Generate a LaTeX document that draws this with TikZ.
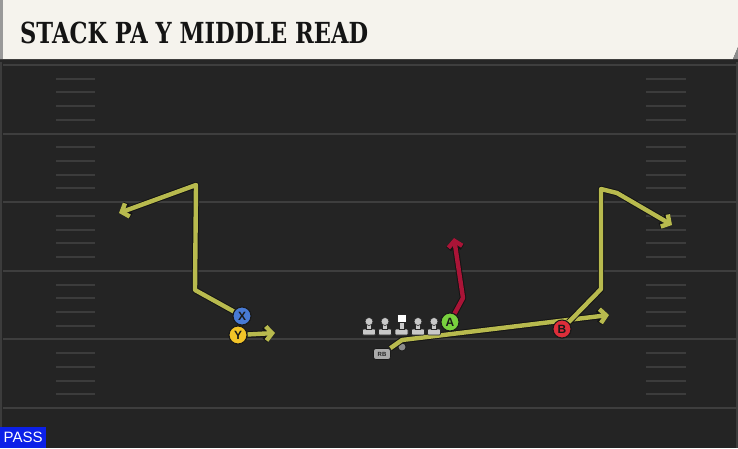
\documentclass[tikz,border=0pt]{standalone}
\usepackage{fontspec}
\setmainfont{Liberation Sans}
\newfontfamily\titlefont{DejaVu Serif}
\usetikzlibrary{arrows.meta}
\definecolor{fieldbg}{RGB}{36,36,36}
\definecolor{yardln}{RGB}{62,62,62}
\definecolor{hashln}{RGB}{60,60,60}
\definecolor{headerbg}{RGB}{245,243,237}
\definecolor{routeol}{RGB}{184,186,78}
\definecolor{routered}{RGB}{170,20,55}
\definecolor{pgreen}{RGB}{120,208,62}
\definecolor{pblue}{RGB}{72,122,212}
\definecolor{pyellow}{RGB}{242,196,40}
\definecolor{pred}{RGB}{222,46,58}
\definecolor{passblue}{RGB}{12,32,232}
\definecolor{linegray}{RGB}{200,200,200}
\tikzset{
  tipbarb/.style={-{Straight Barb[length=6pt,width=14pt]}},
  routeY/.style={draw=routeol, line width=4.4pt, line join=round, tipbarb,
    preaction={draw=black!92, line width=6.4pt, line join=round, tipbarb}},
  routeR/.style={draw=routered, line width=4.4pt, line join=round, tipbarb,
    preaction={draw=black!92, line width=6.4pt, line join=round, tipbarb}},
  player/.style={circle, draw=black!90, line width=1pt, minimum size=18pt, inner sep=0pt,
    font=\bfseries\fontsize{12}{12}\selectfont, text=black!90},
  rbbox/.style={rectangle, rounded corners=2.5pt, fill=linegray!85!black, draw=black!90, line width=0.7pt,
    minimum width=17pt, minimum height=11pt, inner sep=0pt, font=\bfseries\fontsize{6}{6}\selectfont, text=black!85},
  lineman/.pic={
    \fill[linegray, draw=black!85, line width=0.6pt, rounded corners=1pt] (-6.5,7.5) rectangle (6.5,13.5);
    \fill[linegray, draw=black!85, line width=0.6pt] (-2.5,1) rectangle (2.5,8);
    \fill[linegray, draw=black!85, line width=0.6pt] (0,0) circle (4pt);
  },
  centerman/.pic={
    \fill[linegray, draw=black!85, line width=0.6pt, rounded corners=1pt] (-6.5,7.5) rectangle (6.5,13.5);
    \fill[linegray, draw=black!85, line width=0.6pt] (-2.5,1) rectangle (2.5,8);
    \fill[white, draw=black!85, line width=0.6pt] (-4.5,-7.5) rectangle (4.5,1);
  }
}
\begin{document}
\begin{tikzpicture}[x=1pt,y=-1pt]
\useasboundingbox (0,0) rectangle (738,448);
% field
\fill[fieldbg] (0,0) rectangle (738,448);
\fill[black!85] (0,58) rectangle (738,64);
% side lines
\draw[hashln, line width=2pt] (1,62) -- (1,448);
\draw[hashln, line width=1.5pt] (737,62) -- (737,448);
% yard lines
\foreach \k in {0,...,5} {
  \draw[yardln, line width=2pt] (3,65+68.6*\k) -- (738,65+68.6*\k);
}
% hash marks
\foreach \j in {1,2,3,4,6,7,8,9,11,12,13,14,16,17,18,19,21,22,23,24} {
  \draw[hashln, line width=2pt] (56,65+13.72*\j) -- (95,65+13.72*\j);
  \draw[hashln, line width=2pt] (646,65+13.72*\j) -- (686,65+13.72*\j);
}
% header
\fill[headerbg] (0,0) -- (738,0) -- (738,47) -- (733,59) -- (0,59) -- cycle;
\fill[black!40] (0,0) rectangle (3,59);
\fill[black!45] (738,47) -- (733,59) -- (738,59) -- cycle;
\node[anchor=base west, inner sep=0pt, text=black!92] (title) at (20,43.3)
  {\resizebox{348pt}{21.5pt}{\titlefont\bfseries STACK PA Y MIDDLE READ}};
% PASS label
\node[fill=passblue, text=white, anchor=south west, minimum width=46pt, minimum height=21pt,
  inner sep=0pt, font=\fontsize{15}{15}\selectfont] (pass) at (0,448) {PASS};
% way points
\coordinate (x1) at (195,290);
\coordinate (x2) at (196,185);
\coordinate (x3) at (119,213);
\coordinate (y1) at (275,333);
\coordinate (r1) at (402,340);
\coordinate (r2) at (609,315);
\coordinate (b1) at (601,289);
\coordinate (b2) at (601,189);
\coordinate (b3) at (617,193);
\coordinate (b4) at (672,225);
\coordinate (a1) at (463,298);
\coordinate (a2) at (454,238);
% players (placed first for routes to refer to)
\node[player, fill=pblue] (X) at (242,316) {X};
\node[player, fill=pyellow] (Y) at (238,335) {Y};
\node[player, fill=pgreen] (A) at (450,322) {A};
\node[player, fill=pred] (B) at (562,329) {B};
\node[rbbox] (RB) at (382,354) {RB};
\node[circle, fill=black!45, draw=black!90, line width=0.7pt, minimum size=8pt, inner sep=0pt] (QB) at (402,347) {};
% routes
\draw[routeY] (X) -- (x1) -- (x2) -- (x3);
\draw[routeY] (Y) -- (y1);
\draw[routeY] (RB) -- (r1) -- (r2);
\draw[routeY] (B) -- (b1) -- (b2) -- (b3) -- (b4);
\draw[routeR] (A) -- (a1) -- (a2);
% linemen
\pic at (369,321.5) {lineman};
\pic at (385,321.5) {lineman};
\pic at (401.5,321.5) {centerman};
\pic at (418,321.5) {lineman};
\pic at (434,321.5) {lineman};
% redraw players on top
\node[player, fill=pblue] at (X) {X};
\node[player, fill=pyellow] at (Y) {Y};
\node[player, fill=pgreen] at (A) {A};
\node[player, fill=pred] at (B) {B};
\node[rbbox] at (RB) {RB};
\end{tikzpicture}
\end{document}
